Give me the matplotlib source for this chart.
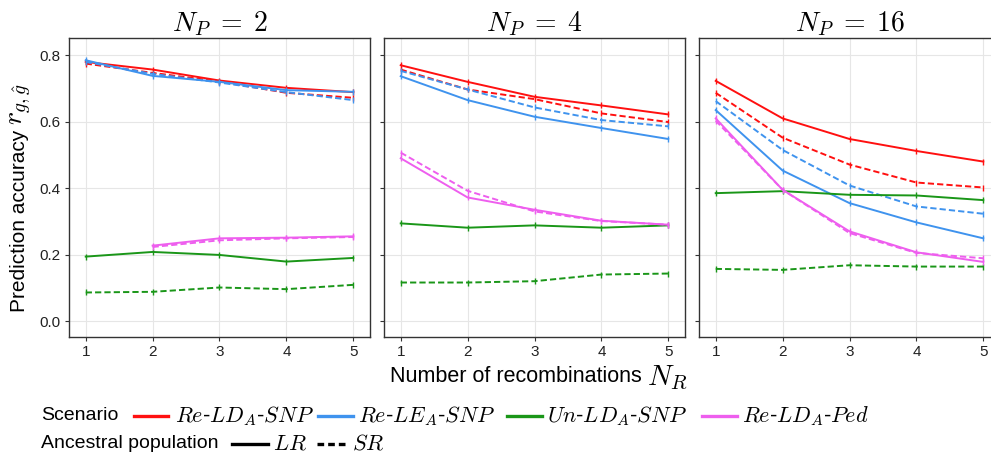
import matplotlib
matplotlib.use("Agg")
import matplotlib.pyplot as plt
from matplotlib.lines import Line2D
import numpy as np

plt.rcParams['font.family'] = ['Liberation Sans', 'DejaVu Sans']
plt.rcParams['mathtext.fontset'] = 'cm'

NR = [1, 2, 3, 4, 5]
panels = [r"$N_P\;=\;2$", r"$N_P\;=\;4$", r"$N_P\;=\;16$"]
scenarios = ["Re-LD-SNP", "Re-LE-SNP", "Un-LD-SNP", "Re-LD-Ped"]
scen_labels = [r"$Re$-$LD_A$-$SNP$", r"$Re$-$LE_A$-$SNP$", r"$Un$-$LD_A$-$SNP$", r"$Re$-$LD_A$-$Ped$"]
colors = ["#FF1010", "#3F93EE", "#1A9618", "#EE5EEE"]

# values[panel][scenario] = (LR, SR)
np2 = {
    "Re-LD-SNP": ([0.780, 0.757, 0.724, 0.702, 0.689], [0.775, 0.747, 0.721, 0.687, 0.672]),
    "Re-LE-SNP": ([0.785, 0.738, 0.720, 0.695, 0.690], [0.780, 0.744, 0.718, 0.689, 0.665]),
    "Un-LD-SNP": ([0.194, 0.208, 0.199, 0.179, 0.190], [0.086, 0.088, 0.101, 0.096, 0.109]),
    "Re-LD-Ped": ([np.nan, 0.227, 0.249, 0.251, 0.255], [np.nan, 0.223, 0.243, 0.249, 0.253]),
}
np4 = {
    "Re-LD-SNP": ([0.770, 0.720, 0.675, 0.649, 0.622], [0.757, 0.697, 0.668, 0.625, 0.599]),
    "Re-LE-SNP": ([0.737, 0.665, 0.615, 0.581, 0.548], [0.753, 0.697, 0.643, 0.605, 0.586]),
    "Un-LD-SNP": ([0.294, 0.281, 0.288, 0.281, 0.288], [0.116, 0.116, 0.120, 0.140, 0.143]),
    "Re-LD-Ped": ([0.490, 0.372, 0.335, 0.302, 0.290], [0.507, 0.392, 0.330, 0.301, 0.290]),
}
np16 = {
    "Re-LD-SNP": ([0.723, 0.610, 0.548, 0.512, 0.480], [0.687, 0.552, 0.471, 0.417, 0.402]),
    "Re-LE-SNP": ([0.635, 0.453, 0.355, 0.297, 0.249], [0.662, 0.515, 0.408, 0.345, 0.323]),
    "Un-LD-SNP": ([0.385, 0.391, 0.380, 0.378, 0.364], [0.157, 0.154, 0.168, 0.164, 0.164]),
    "Re-LD-Ped": ([0.610, 0.395, 0.270, 0.207, 0.178], [0.603, 0.395, 0.265, 0.205, 0.189]),
}
data = [np2, np4, np16]

yticks = [0.0, 0.2, 0.4, 0.6, 0.8]
ytick_labels = ["0.0", "0.2", "0.4", "0.6", "0.8"]

W, H = 991, 458
fig = plt.figure(figsize=(W / 100, H / 100), dpi=100)

def fx(px):
    return px / W

def fy(py):
    return 1 - py / H

lefts = [69, 384, 699]
pw = 301
top, bottom = 38, 337
dash = (3.2, 1.6)

for i, (left, d) in enumerate(zip(lefts, data)):
    ax = fig.add_axes([fx(left), fy(bottom), pw / W, (bottom - top) / H])
    ax.set_xlim(0.75, 5.25)
    ax.set_ylim(-0.048, 0.852)
    ax.grid(True, color="#E6E6E6", lw=0.8)
    ax.set_axisbelow(True)
    for s, c in zip(scenarios, colors):
        lr, sr = d[s]
        ax.plot(NR, lr, color=c, lw=1.4, marker='|', ms=5, mew=1.0, zorder=3)
        ax.plot(NR, sr, color=c, lw=1.4, ls=(0, dash), marker='|', ms=5, mew=1.0, zorder=3)
    ax.set_xticks(NR)
    ax.set_xticklabels([str(v) for v in NR], fontsize=11)
    ax.set_yticks(yticks)
    if i == 0:
        ax.set_yticklabels(ytick_labels, fontsize=11)
    else:
        ax.set_yticklabels([])
    ax.tick_params(axis='both', colors="#333333", length=3, width=0.8, labelcolor="#222222", pad=3)
    for sp in ax.spines.values():
        sp.set_color("#333333")
        sp.set_linewidth(1.0)
    ax.set_title(panels[i], fontsize=20, pad=3)

fig.canvas.draw()
rend = fig.canvas.get_renderer()

# y label: text + larger math
t1 = fig.text(fx(20), fy(312), "Prediction accuracy", rotation=90, ha='center', va='bottom', fontsize=15)
bb = t1.get_window_extent(rend)
fig.text(fx(20), (bb.y1 + 5) / H, r"$r_{g,\hat{g}}$", rotation=90, ha='center', va='bottom', fontsize=20)

# x label
t2 = fig.text(fx(390), fy(377), "Number of recombinations", ha='left', va='center', fontsize=15.5)
bb = t2.get_window_extent(rend)
fig.text((bb.x1 + 5) / W, fy(378), r"$N_R$", ha='left', va='center', fontsize=21)

# legend
r1, r2 = 416, 444
fig.text(fx(41), fy(r1), "Scenario", ha='left', va='center', fontsize=14)
line_x = [(134, 168), (318, 353), (507, 542), (702, 737)]
text_x = [175, 358, 547, 742]
for (x0, x1), tx, c, lab in zip(line_x, text_x, colors, scen_labels):
    fig.add_artist(Line2D([fx(x0), fx(x1)], [fy(r1)] * 2, color=c, lw=2.4, transform=fig.transFigure))
    fig.text(fx(tx), fy(r1), lab, ha='left', va='center', fontsize=16)

fig.text(fx(41), fy(r2), "Ancestral population", ha='left', va='center', fontsize=14)
fig.add_artist(Line2D([fx(232), fx(268)], [fy(r2)] * 2, color='black', lw=2.4, transform=fig.transFigure))
fig.text(fx(273), fy(r2), r"$LR$", ha='left', va='center', fontsize=16)
fig.add_artist(Line2D([fx(317), fx(348)], [fy(r2)] * 2, color='black', lw=2.4, ls=(0, (2, 1.2)),
                      transform=fig.transFigure))
fig.text(fx(352), fy(r2), r"$SR$", ha='left', va='center', fontsize=16)

fig.savefig("out.png", dpi=100)
